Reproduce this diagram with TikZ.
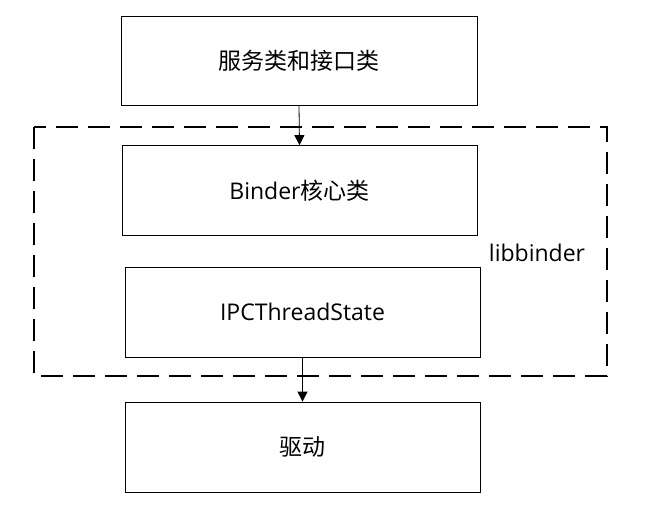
\documentclass[tikz,border=0pt]{standalone}
\usepackage{fontspec}
\setmainfont{Open Sans}
\newfontfamily\cjk{Noto Sans CJK SC}
\usetikzlibrary{arrows.meta}
\tikzset{blockbox/.style={draw,line width=0.8pt,inner sep=0pt,minimum width=355pt,minimum height=89pt,font=\fontsize{23}{27}\selectfont}}
\begin{document}
\begin{tikzpicture}[x=1pt,y=-1pt,line join=miter]
		\useasboundingbox (0,0) rectangle (657,512) ;
		\draw[line width=1.6pt,dash pattern=on 22pt off 10pt] (34,127) rectangle (607,376) ;%libbinder
		\node[blockbox,minimum width=356pt] (svc) at (299,60.5) {\cjk 服务类和接口类} ;
		\node[blockbox,minimum height=90pt] (core) at (299.5,190.5) {Binder{\cjk 核心类}} ;
		\node[blockbox,minimum height=90pt] (ipc) at (302.5,312) {IPCThreadState} ;
		\node[blockbox,minimum height=90pt] (drv) at (302.5,447) {\cjk 驱动} ;
		\node[font=\fontsize{23}{27}\selectfont] (lib) at (537,253) {libbinder} ;
		\draw[line width=0.8pt,-{Triangle[width=10pt,length=10pt]}] (svc.south) -- (core.north) ;
		\draw[line width=0.8pt,-{Triangle[width=10pt,length=10pt]}] (ipc.south) -- (drv.north) ;
	\end{tikzpicture}
\end{document}
